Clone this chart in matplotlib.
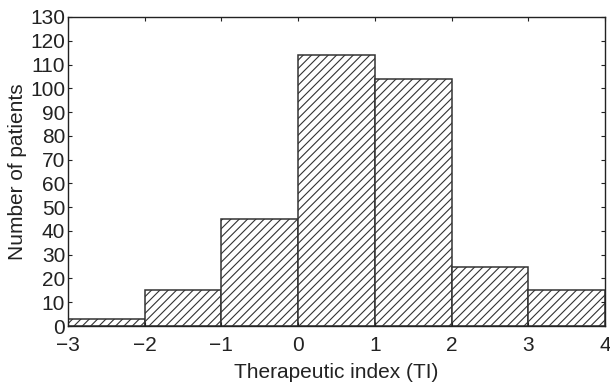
import matplotlib
matplotlib.use("Agg")
import matplotlib.pyplot as plt

bin_edges = [-3, -2, -1, 0, 1, 2, 3, 4]
counts = [3, 15, 45, 114, 104, 25, 15]
x_ticks = [-3, -2, -1, 0, 1, 2, 3, 4]
x_labels = ["\u22123", "\u22122", "\u22121", "0", "1", "2", "3", "4"]
y_ticks = list(range(0, 131, 10))

plt.rcParams['font.family'] = ['Liberation Sans', 'DejaVu Sans']
plt.rcParams['hatch.color'] = '#555555'
plt.rcParams['hatch.linewidth'] = 0.8

fig = plt.figure(figsize=(6.1, 3.87), dpi=100)
ax = fig.add_axes([68/610, 1-326/387, (605-68)/610, (326-17)/387])

lefts = bin_edges[:-1]
widths = [b - a for a, b in zip(bin_edges[:-1], bin_edges[1:])]
ax.bar(lefts, counts, width=widths, align='edge', facecolor='white',
       edgecolor='#333333', linewidth=1.1, hatch='////')

ax.set_xlim(-3, 4)
ax.set_ylim(0, 130)
ax.set_xticks(x_ticks)
ax.set_xticklabels(x_labels)
ax.set_yticks(y_ticks)
ax.tick_params(direction='in', top=True, right=True, labelsize=15,
               length=3, width=0.8, colors='#222222')
ax.tick_params(axis='x', pad=7)
ax.tick_params(axis='y', pad=2)
for s in ax.spines.values():
    s.set_linewidth(1.0)
    s.set_color('#222222')
ax.set_xlabel('Therapeutic index (TI)', fontsize=15, labelpad=6, color='#222222')
ax.set_ylabel('Number of patients', fontsize=15, labelpad=2, color='#222222')

fig.savefig('out.png', dpi=100)
